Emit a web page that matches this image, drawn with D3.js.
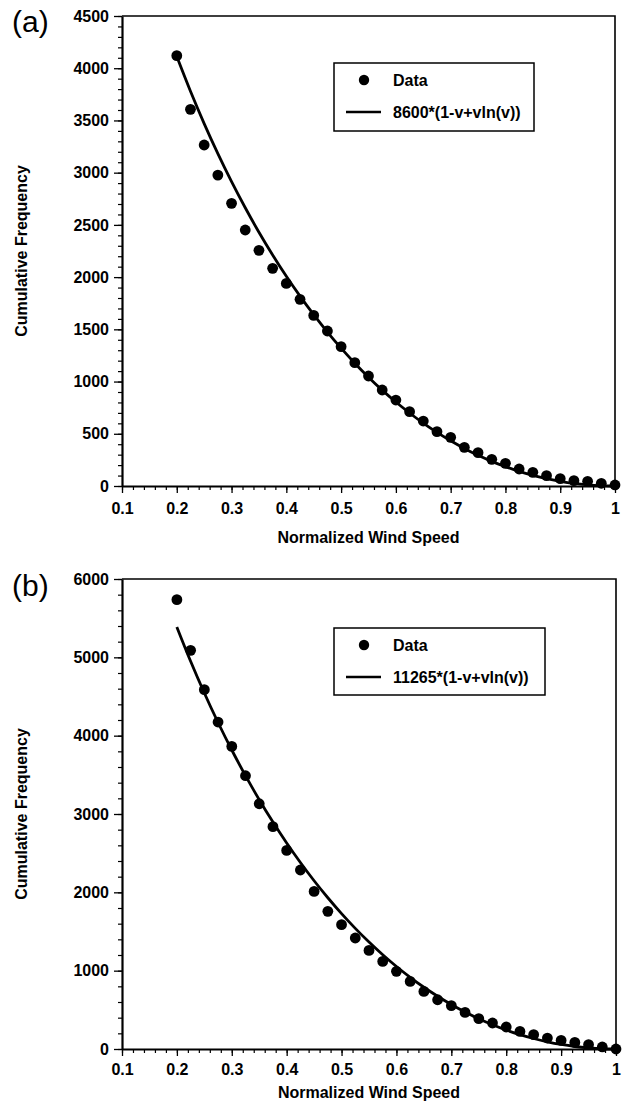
<!DOCTYPE html>
<html><head><meta charset="utf-8">
<script src="https://cdn.jsdelivr.net/npm/d3@7"></script>
<style>
body{margin:0;background:#fff}
svg{display:block}
text{font-family:"Liberation Sans",Arial,sans-serif}
</style>
</head><body>
<svg id="c" width="626" height="1101"></svg>
<script>
// ---- data ----
const windSpeed = [0.2,0.225,0.25,0.275,0.3,0.325,0.35,0.375,0.4,0.425,0.45,0.475,0.5,0.525,0.55,0.575,0.6,0.625,0.65,0.675,0.7,0.725,0.75,0.775,0.8,0.825,0.85,0.875,0.9,0.925,0.95,0.975,1.0];
const freqA = [4120,3606,3265,2977,2706,2451,2256,2084,1940,1787,1633,1484,1334,1181,1053,919,823,712,622,520,466,370,319,255,217,163,131,99,70,51,45,26,10];
const fitA  = [4112,3779,3470,3182,2914,2664,2430,2212,2008,1818,1640,1474,1320,1176,1042,918,804,699,602,513,433,360,294,236,185,140,102,70,45,25,11,3,0];
const freqB = [5736,5089,4587,4174,3863,3489,3131,2838,2535,2285,2012,1757,1587,1417,1259,1118,991,863,735,629,553,467,387,332,281,225,183,140,110,84,55,26,0];
const fitB  = [5386,4950,4545,4168,3817,3489,3183,2897,2630,2381,2148,1931,1728,1540,1365,1203,1053,915,788,673,567,471,386,309,242,184,134,92,58,32,14,3,0];
const xTicks = [0.1,0.2,0.3,0.4,0.5,0.6,0.7,0.8,0.9,1.0];
const xTickLabels = ["0.1","0.2","0.3","0.4","0.5","0.6","0.7","0.8","0.9","1"];
const yTicksA = [0,500,1000,1500,2000,2500,3000,3500,4000,4500];
const yTicksB = [0,1000,2000,3000,4000,5000,6000];
const legendLabelsA = ["Data","8600*(1-v+vln(v))"];
const legendLabelsB = ["Data","11265*(1-v+vln(v))"];
const panelLabels = ["(a)","(b)"];
const xTitle = "Normalized Wind Speed";
const yTitle = "Cumulative Frequency";

const svg = d3.select("#c");
svg.append("rect").attr("width",626).attr("height",1101).attr("fill","#fff");

function panel(o){
  const g = svg.append("g");
  const x = d3.scaleLinear().domain([0.1,1.0]).range([o.left,o.right]);
  const y = d3.scaleLinear().domain([0,o.yMax]).range([o.bottom,o.top]);

  // frame (top/right)
  g.append("path")
    .attr("d",`M${o.left},${o.top}H${o.right}V${o.bottom}`)
    .attr("fill","none").attr("stroke","#000").attr("stroke-width",1.6);

  // y minor ticks
  const yMinor = d3.range(0,o.yMax+1,o.yMinorStep);
  g.append("g").attr("transform",`translate(${o.left},0)`)
    .call(d3.axisLeft(y).tickValues(yMinor).tickSize(4).tickFormat(""))
    .call(s=>{s.select(".domain").remove();s.selectAll("line").attr("stroke-width",1.2);});
  // y major
  g.append("g").attr("transform",`translate(${o.left},0)`)
    .call(d3.axisLeft(y).tickValues(o.yTicks).tickSize(8).tickPadding(5).tickSizeOuter(0)
      .tickFormat(d3.format("d")))
    .call(s=>{
      s.select(".domain").attr("stroke-width",2.2);
      s.selectAll("line").attr("stroke-width",1.3);
      s.selectAll("text").attr("font-size",16).attr("font-weight","bold").attr("fill","#000");
    });
  // x minor
  const xMinor = d3.range(0.1,1.0001,0.02);
  g.append("g").attr("transform",`translate(0,${o.bottom})`)
    .call(d3.axisBottom(x).tickValues(xMinor).tickSize(4).tickFormat(""))
    .call(s=>{s.select(".domain").remove();s.selectAll("line").attr("stroke-width",1.2);});
  // x major
  g.append("g").attr("transform",`translate(0,${o.bottom})`)
    .call(d3.axisBottom(x).tickValues(xTicks).tickSize(7).tickPadding(o.xPad).tickSizeOuter(0)
      .tickFormat((d,i)=>xTickLabels[i]))
    .call(s=>{
      s.select(".domain").attr("stroke-width",2.2);
      s.selectAll("line").attr("stroke-width",1.3);
      s.selectAll("text").attr("font-size",16).attr("font-weight","bold").attr("fill","#000");
    });

  // titles
  g.append("text").attr("x",(o.left+o.right)/2).attr("y",o.xTitleY)
    .attr("text-anchor","middle").attr("font-size",16).attr("font-weight","bold").text(xTitle);
  g.append("text").attr("transform",`translate(27,${(o.top+o.bottom)/2}) rotate(-90)`)
    .attr("text-anchor","middle").attr("font-size",16).attr("font-weight","bold").text(yTitle);
  g.append("text").attr("x",12).attr("y",o.labelY).attr("font-size",30).text(o.label);

  // fitted curve
  const line = d3.line().x((d,i)=>x(windSpeed[i])).y(d=>y(d)).curve(d3.curveMonotoneX);
  g.append("path").datum(o.fit).attr("d",line).attr("fill","none")
    .attr("stroke","#000").attr("stroke-width",2.8);
  // points
  g.selectAll("circle.pt").data(o.freq).join("circle").attr("class","pt")
    .attr("cx",(d,i)=>x(windSpeed[i])).attr("cy",d=>y(d)).attr("r",5.4).attr("fill","#000");

  // legend
  const L = o.legend;
  g.append("rect").attr("x",L.x).attr("y",L.y).attr("width",L.w).attr("height",L.h)
    .attr("fill","#fff").attr("stroke","#000").attr("stroke-width",1.5);
  g.append("circle").attr("cx",L.x+30).attr("cy",L.y+17).attr("r",5.2).attr("fill","#000");
  g.append("text").attr("x",L.x+59).attr("y",L.y+23).attr("font-size",16).attr("font-weight","bold").text(o.legendLabels[0]);
  g.append("line").attr("x1",L.x+12).attr("x2",L.x+47).attr("y1",L.y+49).attr("y2",L.y+49)
    .attr("stroke","#000").attr("stroke-width",2.6);
  g.append("text").attr("x",L.x+59).attr("y",L.y+55).attr("font-size",16).attr("font-weight","bold").text(o.legendLabels[1]);
}

panel({left:122,right:615,top:16,bottom:486,yMax:4500,yMinorStep:100,yTicks:yTicksA,
  freq:freqA,fit:fitA,legendLabels:legendLabelsA,label:panelLabels[0],labelY:32,
  xPad:10,xTitleY:543,legend:{x:334,y:63,w:200,h:68}});
panel({left:122,right:616,top:579,bottom:1049,yMax:6000,yMinorStep:200,yTicks:yTicksB,
  freq:freqB,fit:fitB,legendLabels:legendLabelsB,label:panelLabels[1],labelY:596,
  xPad:8,xTitleY:1098,legend:{x:334,y:628,w:211,h:67}});
</script>
</body></html>
